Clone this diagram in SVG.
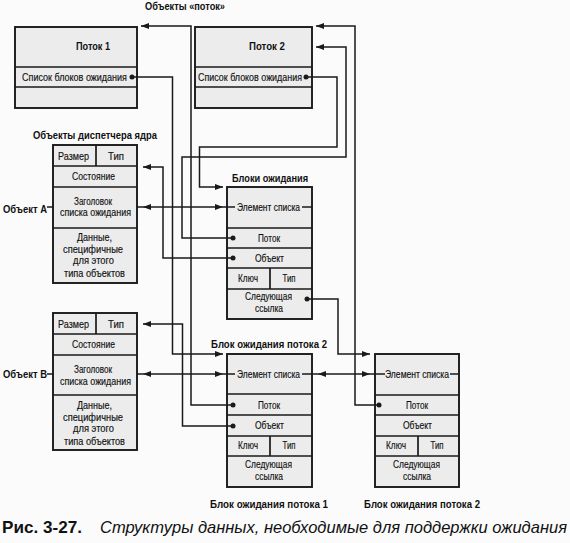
<svg xmlns="http://www.w3.org/2000/svg" width="570" height="543" viewBox="0 0 570 543">
<style>
text{font-family:"Liberation Sans",Arial,sans-serif;fill:#111}
.r{font-size:10px;text-anchor:middle;stroke:#111;stroke-width:0.15}
.s{font-size:10px;stroke:#111;stroke-width:0.15}
.b{font-size:11px;font-weight:bold;text-anchor:middle}
.bl{font-size:11px;font-weight:bold}
.box{fill:#ececec;stroke:#1a1a1a;stroke-width:1.9}
.ln{stroke:#1a1a1a;stroke-width:1.7;fill:none}
.ca{stroke:#1a1a1a;stroke-width:1.5;fill:none;marker-end:url(#a)}
.cb{stroke:#1a1a1a;stroke-width:1.5;fill:none;marker-start:url(#a);marker-end:url(#a)}
.d{fill:#1a1a1a}
</style>
<defs>
<marker id="a" viewBox="0 0 8 6" refX="8" refY="3" markerWidth="8" markerHeight="6" markerUnits="userSpaceOnUse" orient="auto-start-reverse"><path d="M0,0L8,3L0,6z" fill="#1a1a1a"/></marker>
</defs>
<rect width="570" height="543" fill="#fbfbfb"/>

<g id="titles">
<text class="b" x="185" y="10" textLength="80" lengthAdjust="spacingAndGlyphs">Объекты «поток»</text>
<text class="b" x="95" y="139" textLength="124" lengthAdjust="spacingAndGlyphs">Объекты диспетчера ядра</text>
<text class="bl" x="3" y="213" textLength="44" lengthAdjust="spacingAndGlyphs">Объект А</text>
<text class="bl" x="3" y="378" textLength="44" lengthAdjust="spacingAndGlyphs">Объект В</text>
<text class="b" x="270" y="182" textLength="76" lengthAdjust="spacingAndGlyphs">Блоки ожидания</text>
<text class="b" x="269" y="348" textLength="116" lengthAdjust="spacingAndGlyphs">Блок ожидания потока 2</text>
<text class="b" x="269" y="508" textLength="118" lengthAdjust="spacingAndGlyphs">Блок ожидания потока 1</text>
<text class="b" x="422" y="508" textLength="116" lengthAdjust="spacingAndGlyphs">Блок ожидания потока 2</text>
</g>

<g id="thread1">
<rect class="box" x="15" y="27" width="122" height="81"/>
<path class="ln" d="M15,67H137M15,87H137"/>
<text class="b" x="93" y="50" textLength="34" lengthAdjust="spacingAndGlyphs">Поток 1</text>
<text class="s" x="22" y="81" textLength="105" lengthAdjust="spacingAndGlyphs">Список блоков ожидания</text>
</g>

<g id="thread2">
<rect class="box" x="195" y="27" width="117" height="81"/>
<path class="ln" d="M195,67H312M195,87H312"/>
<text class="b" x="267" y="50" textLength="36" lengthAdjust="spacingAndGlyphs">Поток 2</text>
<text class="s" x="198" y="81" textLength="104" lengthAdjust="spacingAndGlyphs">Список блоков ожидания</text>
</g>

<g id="objectA">
<rect class="box" x="53" y="145" width="84" height="138"/>
<path class="ln" d="M53,166H137M53,187H137M53,228H137M96,145V166M47,207H53M137,207H143"/>
<text class="r" x="73.5" y="160" textLength="31" lengthAdjust="spacingAndGlyphs">Размер</text>
<text class="r" x="116" y="160" textLength="16" lengthAdjust="spacingAndGlyphs">Тип</text>
<text class="r" x="93.5" y="180" textLength="43" lengthAdjust="spacingAndGlyphs">Состояние</text>
<text class="r" x="93" y="205" textLength="38" lengthAdjust="spacingAndGlyphs">Заголовок</text>
<text class="r" x="95.5" y="216" textLength="71" lengthAdjust="spacingAndGlyphs">списка ожидания</text>
<text class="r" x="94.5" y="241" textLength="35" lengthAdjust="spacingAndGlyphs">Данные,</text>
<text class="r" x="93" y="253" textLength="60" lengthAdjust="spacingAndGlyphs">специфичные</text>
<text class="r" x="93.5" y="264" textLength="41" lengthAdjust="spacingAndGlyphs">для этого</text>
<text class="r" x="94.5" y="277" textLength="61" lengthAdjust="spacingAndGlyphs">типа объектов</text>
</g>

<g id="objectB">
<rect class="box" x="53" y="313" width="84" height="137"/>
<path class="ln" d="M53,334H137M53,355H137M53,395H137M96,313V334M47,374H53M137,374H143"/>
<text class="r" x="73.5" y="328" textLength="31" lengthAdjust="spacingAndGlyphs">Размер</text>
<text class="r" x="116" y="328" textLength="16" lengthAdjust="spacingAndGlyphs">Тип</text>
<text class="r" x="93.5" y="348" textLength="43" lengthAdjust="spacingAndGlyphs">Состояние</text>
<text class="r" x="93" y="373" textLength="38" lengthAdjust="spacingAndGlyphs">Заголовок</text>
<text class="r" x="95.5" y="385" textLength="71" lengthAdjust="spacingAndGlyphs">списка ожидания</text>
<text class="r" x="94.5" y="409" textLength="35" lengthAdjust="spacingAndGlyphs">Данные,</text>
<text class="r" x="93" y="421" textLength="60" lengthAdjust="spacingAndGlyphs">специфичные</text>
<text class="r" x="93.5" y="432" textLength="41" lengthAdjust="spacingAndGlyphs">для этого</text>
<text class="r" x="94.5" y="445" textLength="61" lengthAdjust="spacingAndGlyphs">типа объектов</text>
</g>

<g id="waitblock1">
<rect class="box" x="227" y="187" width="85" height="132"/>
<path class="ln" d="M227,228H312M227,248H312M227,268H312M227,289H312M270,268V289M223,207H235M302,207H312"/>
<text class="r" x="268.5" y="211" textLength="63" lengthAdjust="spacingAndGlyphs">Элемент списка</text>
<text class="r" x="269" y="242" textLength="22" lengthAdjust="spacingAndGlyphs">Поток</text>
<text class="r" x="269.5" y="262" textLength="29" lengthAdjust="spacingAndGlyphs">Объект</text>
<text class="r" x="248" y="282" textLength="20" lengthAdjust="spacingAndGlyphs">Ключ</text>
<text class="r" x="289" y="282" textLength="13" lengthAdjust="spacingAndGlyphs">Тип</text>
<text class="r" x="268.5" y="300" textLength="47" lengthAdjust="spacingAndGlyphs">Следующая</text>
<text class="r" x="269" y="312" textLength="28" lengthAdjust="spacingAndGlyphs">ссылка</text>
</g>

<g id="waitblock2">
<rect class="box" x="227" y="354" width="85" height="133"/>
<path class="ln" d="M227,394H312M227,415H312M227,436H312M227,456H312M270,436V456M223,374H235M302,374H318"/>
<text class="r" x="268.5" y="378" textLength="63" lengthAdjust="spacingAndGlyphs">Элемент списка</text>
<text class="r" x="269" y="409" textLength="22" lengthAdjust="spacingAndGlyphs">Поток</text>
<text class="r" x="269.5" y="429" textLength="29" lengthAdjust="spacingAndGlyphs">Объект</text>
<text class="r" x="248" y="449" textLength="20" lengthAdjust="spacingAndGlyphs">Ключ</text>
<text class="r" x="289" y="449" textLength="13" lengthAdjust="spacingAndGlyphs">Тип</text>
<text class="r" x="268.5" y="468" textLength="47" lengthAdjust="spacingAndGlyphs">Следующая</text>
<text class="r" x="269" y="480" textLength="28" lengthAdjust="spacingAndGlyphs">ссылка</text>
</g>

<g id="waitblock3">
<rect class="box" x="375" y="354" width="84" height="133"/>
<path class="ln" d="M375,395H459M375,415H459M375,436H459M375,456H459M418,436V456M370,374H385M450,374H459"/>
<text class="r" x="417" y="378" textLength="64" lengthAdjust="spacingAndGlyphs">Элемент списка</text>
<text class="r" x="417" y="409" textLength="22" lengthAdjust="spacingAndGlyphs">Поток</text>
<text class="r" x="417.5" y="429" textLength="29" lengthAdjust="spacingAndGlyphs">Объект</text>
<text class="r" x="396" y="449" textLength="20" lengthAdjust="spacingAndGlyphs">Ключ</text>
<text class="r" x="437" y="449" textLength="13" lengthAdjust="spacingAndGlyphs">Тип</text>
<text class="r" x="416.5" y="468" textLength="47" lengthAdjust="spacingAndGlyphs">Следующая</text>
<text class="r" x="417" y="480" textLength="28" lengthAdjust="spacingAndGlyphs">ссылка</text>
</g>

<g id="connectors">
<path class="ca" d="M132,77H172.5V354H223"/>
<path class="ca" d="M306,77H337V147H199.5V187H223"/>
<path class="ca" d="M233,238H182V157H346V47H316"/>
<path class="ca" d="M233,258H163V167H143"/>
<path class="cb" d="M143,207H223"/>
<path class="ca" d="M307,299H338V354H370"/>
<path class="ca" d="M233,405H191V26H141"/>
<path class="ca" d="M233,426H182.5V324H143"/>
<path class="cb" d="M143,374H223"/>
<path class="cb" d="M318,374H370"/>
<path class="ca" d="M379,405H355V26H316"/>
<circle class="d" cx="132" cy="77" r="2.5"/>
<circle class="d" cx="306" cy="77" r="2.5"/>
<circle class="d" cx="233" cy="238" r="2.5"/>
<circle class="d" cx="233" cy="258" r="2.5"/>
<circle class="d" cx="307" cy="299" r="2.5"/>
<circle class="d" cx="233" cy="405" r="2.5"/>
<circle class="d" cx="233" cy="426" r="2.5"/>
<circle class="d" cx="379" cy="405" r="2.5"/>
</g>

<g id="caption">
<text x="2" y="533" style="font-size:16.5px;font-weight:bold" textLength="80" lengthAdjust="spacingAndGlyphs">Рис. 3-27.</text>
<text x="100" y="533" style="font-size:16.5px;font-style:italic" textLength="467" lengthAdjust="spacingAndGlyphs">Структуры данных, необходимые для поддержки ожидания</text>
</g>
</svg>
